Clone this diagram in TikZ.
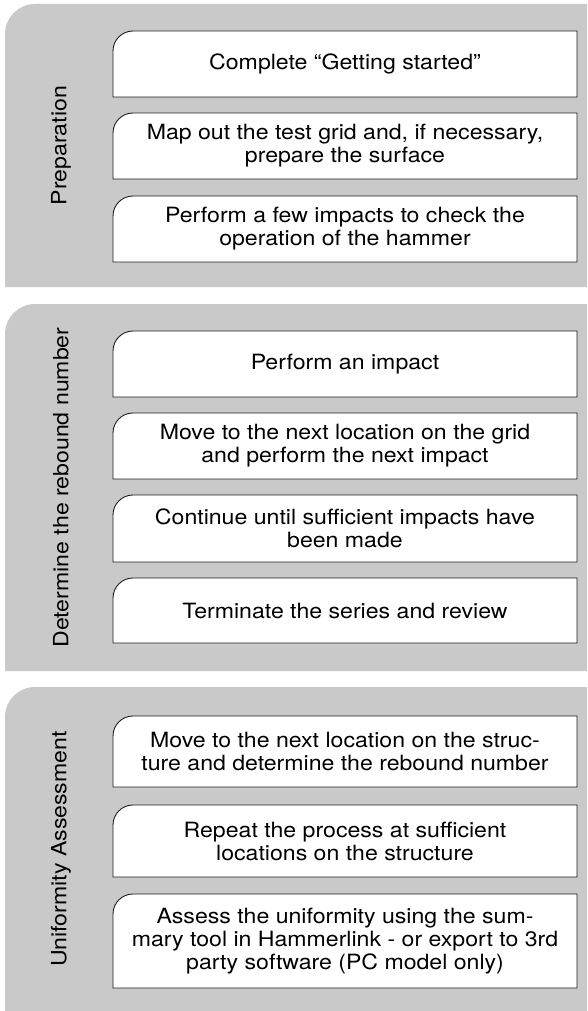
\documentclass[tikz,border=0pt]{standalone}
\usepackage{fontspec}
\setmainfont[FakeStretch=1.1]{TeX Gyre Heros}
\definecolor{panelgray}{RGB}{200,201,200}
\definecolor{boxline}{RGB}{30,30,30}

\begin{document}
\begin{tikzpicture}[x=1pt,y=-1pt,
  panel/.style={fill=panelgray},
  stepbox/.style={fill=white,draw=boxline,line width=0.9pt},
  steptext/.style={align=center,font=\fontsize{21}{23}\selectfont},
  phase/.style={rotate=90,font=\fontsize{21}{23}\selectfont}]
\useasboundingbox (0,0) rectangle (587,1011);
\foreach \a/\b in {4/287,304/671,687/1011}{
\fill[panel] (587,\a) -- (35,\a) arc[start angle=90,end angle=180,radius=30pt] -- (5,\b) -- (587,\b) -- cycle;
}
\node[phase] (prep) at (61,145.5) {Preparation};
\node[phase] (rebound) at (61,487.5) {Determine the rebound number};
\node[phase] (uniform) at (61,849) {Uniformity Assessment};
\foreach \a/\b/\n/\t in {
  31/97/start/{Complete “Getting started”},
  113/179/grid/{Map out the test grid and, if necessary,\\prepare the surface},
  196/262/check/{Perform a few impacts to check the\\operation of the hammer},
  331/397/impact/{Perform an impact},
  413/479/next/{Move to the next location on the grid\\and perform the next impact},
  495/562/cont/{Continue until sufficient impacts have\\been made},
  578/643/term/{Terminate the series and review},
  716/787/move/{Move to the next location on the struc-\\ture and determine the rebound number},
  805/877/repeat/{Repeat the process at sufficient\\locations on the structure},
  894/988/assess/{Assess the uniformity using the sum-\\mary tool in Hammerlink - or export to 3rd\\party software (PC model only)}}{
\filldraw[stepbox] (577,\a) -- (133,\a) arc[start angle=90,end angle=180,radius=20pt] -- (113,\b) -- (577,\b) -- cycle;
\node[steptext] (\n) at (345,{(\a+\b)/2}) {\t};
}
\end{tikzpicture}
\end{document}
